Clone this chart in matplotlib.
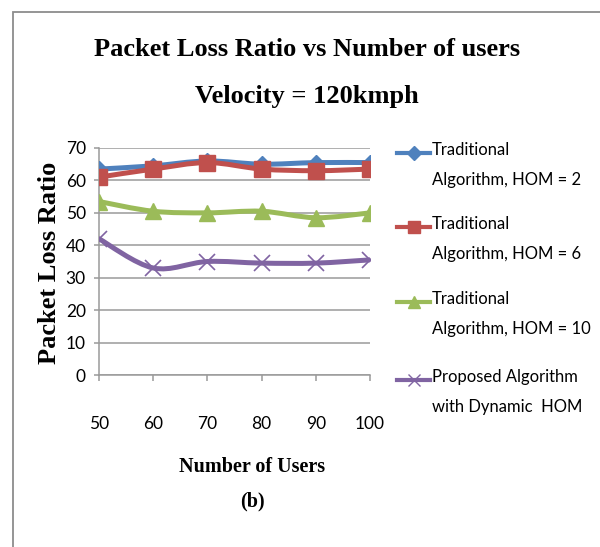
import matplotlib
matplotlib.use("Agg")
import matplotlib.pyplot as plt
from matplotlib.path import Path
from matplotlib.patches import PathPatch, Rectangle
from matplotlib.lines import Line2D

# data
users = [50, 60, 70, 80, 90, 100]
hom2 = [63.5, 64.5, 66, 65, 65.5, 65.5]
hom6 = [61, 63.5, 65.5, 63.5, 63, 63.5]
hom10 = [53.5, 50.5, 50, 50.5, 48.5, 50]
dynamic = [42, 33, 35, 34.5, 34.5, 35.5]

labels = ["Traditional\nAlgorithm, HOM = 2",
          "Traditional\nAlgorithm, HOM = 6",
          "Traditional\nAlgorithm, HOM = 10",
          "Proposed Algorithm\nwith Dynamic  HOM"]
colors = ["#4F81BD", "#C0504D", "#9BBB59", "#8064A2"]
markers = ["D", "s", "^", "x"]
msizes = [8, 11, 11, 11]

serif = ["Liberation Serif", "DejaVu Serif"]
narrow = ["Lato", "DejaVu Sans"]


def smooth_path(xs, ys):
    # Excel-style smoothed line: Catmull-Rom segments as cubic Beziers
    pts = list(zip(xs, ys))
    verts = [pts[0]]
    codes = [Path.MOVETO]
    n = len(pts)
    for i in range(n - 1):
        p0 = pts[i - 1] if i > 0 else pts[i]
        p1 = pts[i]
        p2 = pts[i + 1]
        p3 = pts[i + 2] if i + 2 < n else pts[i + 1]
        c1 = (p1[0] + (p2[0] - p0[0]) / 6, p1[1] + (p2[1] - p0[1]) / 6)
        c2 = (p2[0] - (p3[0] - p1[0]) / 6, p2[1] - (p3[1] - p1[1]) / 6)
        verts += [c1, c2, p2]
        codes += [Path.CURVE4] * 3
    return Path(verts, codes)


W, H = 600, 547
fig = plt.figure(figsize=(W / 100, H / 100), dpi=100)
ax = fig.add_axes([99 / W, 1 - 375 / H, (370 - 99) / W, (375 - 148) / H])

series = [hom2, hom6, hom10, dynamic]
for vals, c, m, ms in zip(series, colors, markers, msizes):
    ax.add_patch(PathPatch(smooth_path(users, vals), facecolor="none",
                           edgecolor=c, lw=3.6, capstyle="round",
                           joinstyle="round", zorder=3))
    ax.plot(users, vals, linestyle="none", marker=m, ms=ms, color=c,
            mec=c, mew=1.2 if m == "x" else 1, zorder=4)

ax.set_xlim(50, 100)
ax.set_ylim(0, 70)
ax.set_xticks(users)
ax.set_yticks(range(0, 71, 10))
ax.yaxis.grid(True, color="#9A9A9A", lw=1.1)
ax.set_axisbelow(True)
for s in ["top", "right"]:
    ax.spines[s].set_visible(False)
for s in ["left", "bottom"]:
    ax.spines[s].set_color("#9A9A9A")
    ax.spines[s].set_linewidth(1.1)
ax.tick_params(axis="x", length=4.5, width=1.1, color="#9A9A9A", pad=25,
               labelsize=12.5)
ax.tick_params(axis="y", length=3.5, width=1.1, color="#9A9A9A", pad=6,
               labelsize=12.5)
for t in ax.get_xticklabels() + ax.get_yticklabels():
    t.set_family(narrow)

# titles and axis labels
fig.text(307 / W, 1 - 50 / H, "Packet Loss Ratio vs Number of users",
         ha="center", va="center", family=serif, weight="bold", fontsize=19)
fig.text(307 / W, 1 - 96 / H, "Velocity = 120kmph", ha="center",
         va="center", family=serif, weight="bold", fontsize=19)
fig.text(50 / W, 1 - 263 / H, "Packet Loss Ratio", rotation=90, ha="center",
         va="center", family=serif, weight="bold", fontsize=19)
fig.text(252 / W, 1 - 467 / H, "Number of Users", ha="center", va="center",
         family=serif, weight="bold", fontsize=14.5)
fig.text(252 / W, 1 - 501 / H, "(b)", ha="center", va="center",
         family=serif, weight="bold", fontsize=14.5)

# legend, drawn by hand so the key sits on the first text line
key_y = [153, 227, 302, 380]
for y, c, m, ms, lab in zip(key_y, colors, markers, msizes, labels):
    yf = 1 - y / H
    fig.add_artist(Line2D([397 / W, 430 / W], [yf, yf], color=c, lw=3,
                          transform=fig.transFigure))
    fig.add_artist(Line2D([413.5 / W], [yf], marker=m, ms=ms * 0.85,
                          color=c, mec=c, linestyle="none",
                          transform=fig.transFigure))
    fig.text(432 / W, yf + 11 / H, lab, ha="left", va="top", family=narrow,
             fontsize=12, linespacing=2.05)

# outer frame of the chart object
fig.add_artist(Rectangle((13 / W, -0.1), 1.2, 1.1 - 12 / H,
                         transform=fig.transFigure, fill=False,
                         edgecolor="#8C8C8C", lw=1.3))

fig.savefig("out.png", dpi=100)
